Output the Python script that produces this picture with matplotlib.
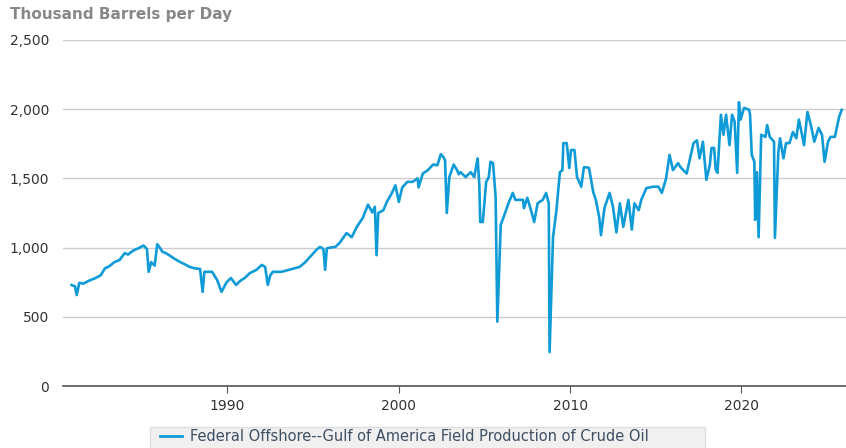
import matplotlib.pyplot as plt

# decimal year, thousand barrels per day
years = [
    1980.9, 1981.1, 1981.2, 1981.35, 1981.6, 1981.9, 1982.3, 1982.6, 1982.85, 1983.1,
    1983.4, 1983.7, 1984.0, 1984.2, 1984.4, 1984.6, 1984.8, 1985.1, 1985.3, 1985.4,
    1985.55, 1985.75, 1985.9, 1986.05, 1986.2, 1986.4, 1986.6, 1986.9, 1987.25, 1987.5,
    1987.8, 1988.1, 1988.4, 1988.55, 1988.65, 1989.1, 1989.4, 1989.65, 1989.95, 1990.2,
    1990.5, 1990.75, 1991.0, 1991.3, 1991.7, 1992.0, 1992.2, 1992.35, 1992.5, 1992.65,
    1993.15, 1993.75, 1994.2, 1994.5, 1994.8, 1995.2, 1995.4, 1995.6, 1995.7, 1995.8,
    1996.0, 1996.3, 1996.55, 1996.95, 1997.25, 1997.55, 1997.9, 1998.2, 1998.45, 1998.6,
    1998.7, 1998.8, 1999.1, 1999.3, 1999.6, 1999.8, 2000.0, 2000.2, 2000.5, 2000.8,
    2001.1, 2001.15, 2001.4, 2001.7, 2002.0, 2002.25, 2002.45, 2002.6, 2002.7, 2002.8,
    2002.95, 2003.2, 2003.4, 2003.5, 2003.6, 2003.9, 2004.2, 2004.4, 2004.6, 2004.7,
    2004.75, 2004.9, 2005.1, 2005.25, 2005.35, 2005.5, 2005.65, 2005.75, 2005.95, 2006.1,
    2006.4, 2006.65, 2006.8, 2007.25, 2007.3, 2007.5, 2007.75, 2007.9, 2008.1, 2008.4,
    2008.6, 2008.75, 2008.8, 2009.0, 2009.2, 2009.4, 2009.55, 2009.6, 2009.8, 2009.95,
    2010.05, 2010.25, 2010.4, 2010.65, 2010.8, 2010.95, 2011.1, 2011.35, 2011.5, 2011.7,
    2011.8, 2012.0, 2012.3, 2012.5, 2012.7, 2012.9, 2013.1, 2013.4, 2013.6, 2013.75,
    2014.0, 2014.15, 2014.45, 2014.85, 2015.15, 2015.35, 2015.6, 2015.8, 2016.0, 2016.3,
    2016.45, 2016.8, 2017.0, 2017.2, 2017.4, 2017.55, 2017.75, 2017.95, 2018.15, 2018.25,
    2018.4, 2018.5, 2018.6, 2018.8, 2018.95, 2019.1, 2019.3, 2019.45, 2019.6, 2019.75,
    2019.85, 2019.95, 2020.15, 2020.45, 2020.5, 2020.6, 2020.75, 2020.8, 2020.9, 2021.0,
    2021.15, 2021.4, 2021.5, 2021.65, 2021.9, 2021.95, 2022.15, 2022.25, 2022.45, 2022.6,
    2022.8, 2023.0, 2023.2, 2023.35, 2023.5, 2023.65, 2023.85, 2024.05, 2024.25, 2024.5,
    2024.7, 2024.85, 2025.05, 2025.2, 2025.45, 2025.7, 2025.85,
]
production = [
    730, 720, 657, 745, 740, 760, 780, 800, 850, 865,
    895, 910, 960, 950, 970, 985, 995, 1015, 990, 825,
    895, 870, 1025, 1000, 970, 960, 945, 920, 895, 880,
    860, 850, 845, 680, 825, 825, 765, 680, 750, 780,
    730, 760, 780, 815, 840, 875, 860, 730, 800, 825,
    825, 845, 860, 890, 930, 985, 1005, 990, 840, 995,
    1000, 1005, 1035, 1105, 1075, 1150, 1215, 1310, 1255, 1295,
    945, 1250, 1270, 1330, 1395, 1450, 1330, 1435, 1475, 1475,
    1500, 1435, 1535, 1560, 1600, 1595, 1675, 1655, 1630, 1250,
    1510, 1600, 1560, 1530, 1545, 1510, 1545, 1510, 1645, 1450,
    1185, 1185, 1475, 1510, 1620, 1610, 1365, 465, 1165, 1215,
    1320, 1395, 1345, 1345, 1285, 1360, 1255, 1185, 1320, 1345,
    1395, 1320, 245, 1075, 1270, 1545, 1560, 1755, 1755, 1575,
    1705, 1705, 1510, 1440, 1580, 1580, 1575, 1400, 1345, 1215,
    1090, 1285, 1395, 1295, 1110, 1320, 1150, 1345, 1130, 1320,
    1270, 1345, 1430, 1440, 1440, 1395, 1500, 1670, 1560, 1610,
    1580, 1535, 1645, 1755, 1775, 1645, 1765, 1490, 1595, 1720,
    1720, 1560, 1540, 1960, 1815, 1960, 1740, 1960, 1910, 1540,
    2050, 1925, 2010, 1995, 1960, 1670, 1620, 1200, 1545, 1075,
    1815, 1800, 1885, 1800, 1765, 1070, 1690, 1790, 1645, 1755,
    1755, 1835, 1790, 1925, 1835, 1740, 1980, 1885, 1765, 1865,
    1815, 1620, 1765, 1800, 1800, 1945, 1995,
]
series_name = "Federal Offshore--Gulf of America Field Production of Crude Oil"
y_ticks = [0, 500, 1000, 1500, 2000, 2500]
x_ticks = [1990, 2000, 2010, 2020]

line_color = "#0f9bd7"

fig = plt.figure(figsize=(8.46, 4.48), dpi=100)
ax = fig.add_axes([63 / 846, 62 / 448, 783 / 846, 346 / 448])

ax.plot(years, production, color=line_color, lw=1.9, solid_joinstyle="round")

ax.set_xlim(1980.4, 2026.1)
ax.set_ylim(0, 2500)
ax.set_yticks(y_ticks)
ax.set_yticklabels([f"{v:,}" for v in y_ticks])
ax.set_xticks(x_ticks)
ax.grid(axis="y", color="#cccccc", lw=1)
ax.set_axisbelow(True)

for s in ["top", "right", "left"]:
    ax.spines[s].set_visible(False)
ax.spines["bottom"].set_color("#555555")
ax.spines["bottom"].set_linewidth(1.2)
ax.tick_params(axis="y", length=0, pad=10, labelsize=10, labelcolor="#333333")
ax.tick_params(axis="x", length=5, color="#555555", pad=4, labelsize=10, labelcolor="#333333")

fig.text(10 / 846, 1 - 15 / 448, "Thousand Barrels per Day", fontsize=11, fontweight="bold",
         color="#888888", va="center", ha="left")

# legend box at bottom
box = plt.Rectangle((150 / 846, -0.02), 555 / 846, 30 / 448, transform=fig.transFigure,
                    facecolor="#f0f0f0", edgecolor="#dddddd", lw=1)
fig.add_artist(box)
fig.lines.append(plt.Line2D([160 / 846, 182 / 846], [1 - 436 / 448] * 2,
                            transform=fig.transFigure, color=line_color, lw=2))
fig.text(190 / 846, 1 - 436 / 448, series_name, fontsize=10.5, color="#3d4f63",
         va="center", ha="left")

fig.savefig("out.png", dpi=100)
